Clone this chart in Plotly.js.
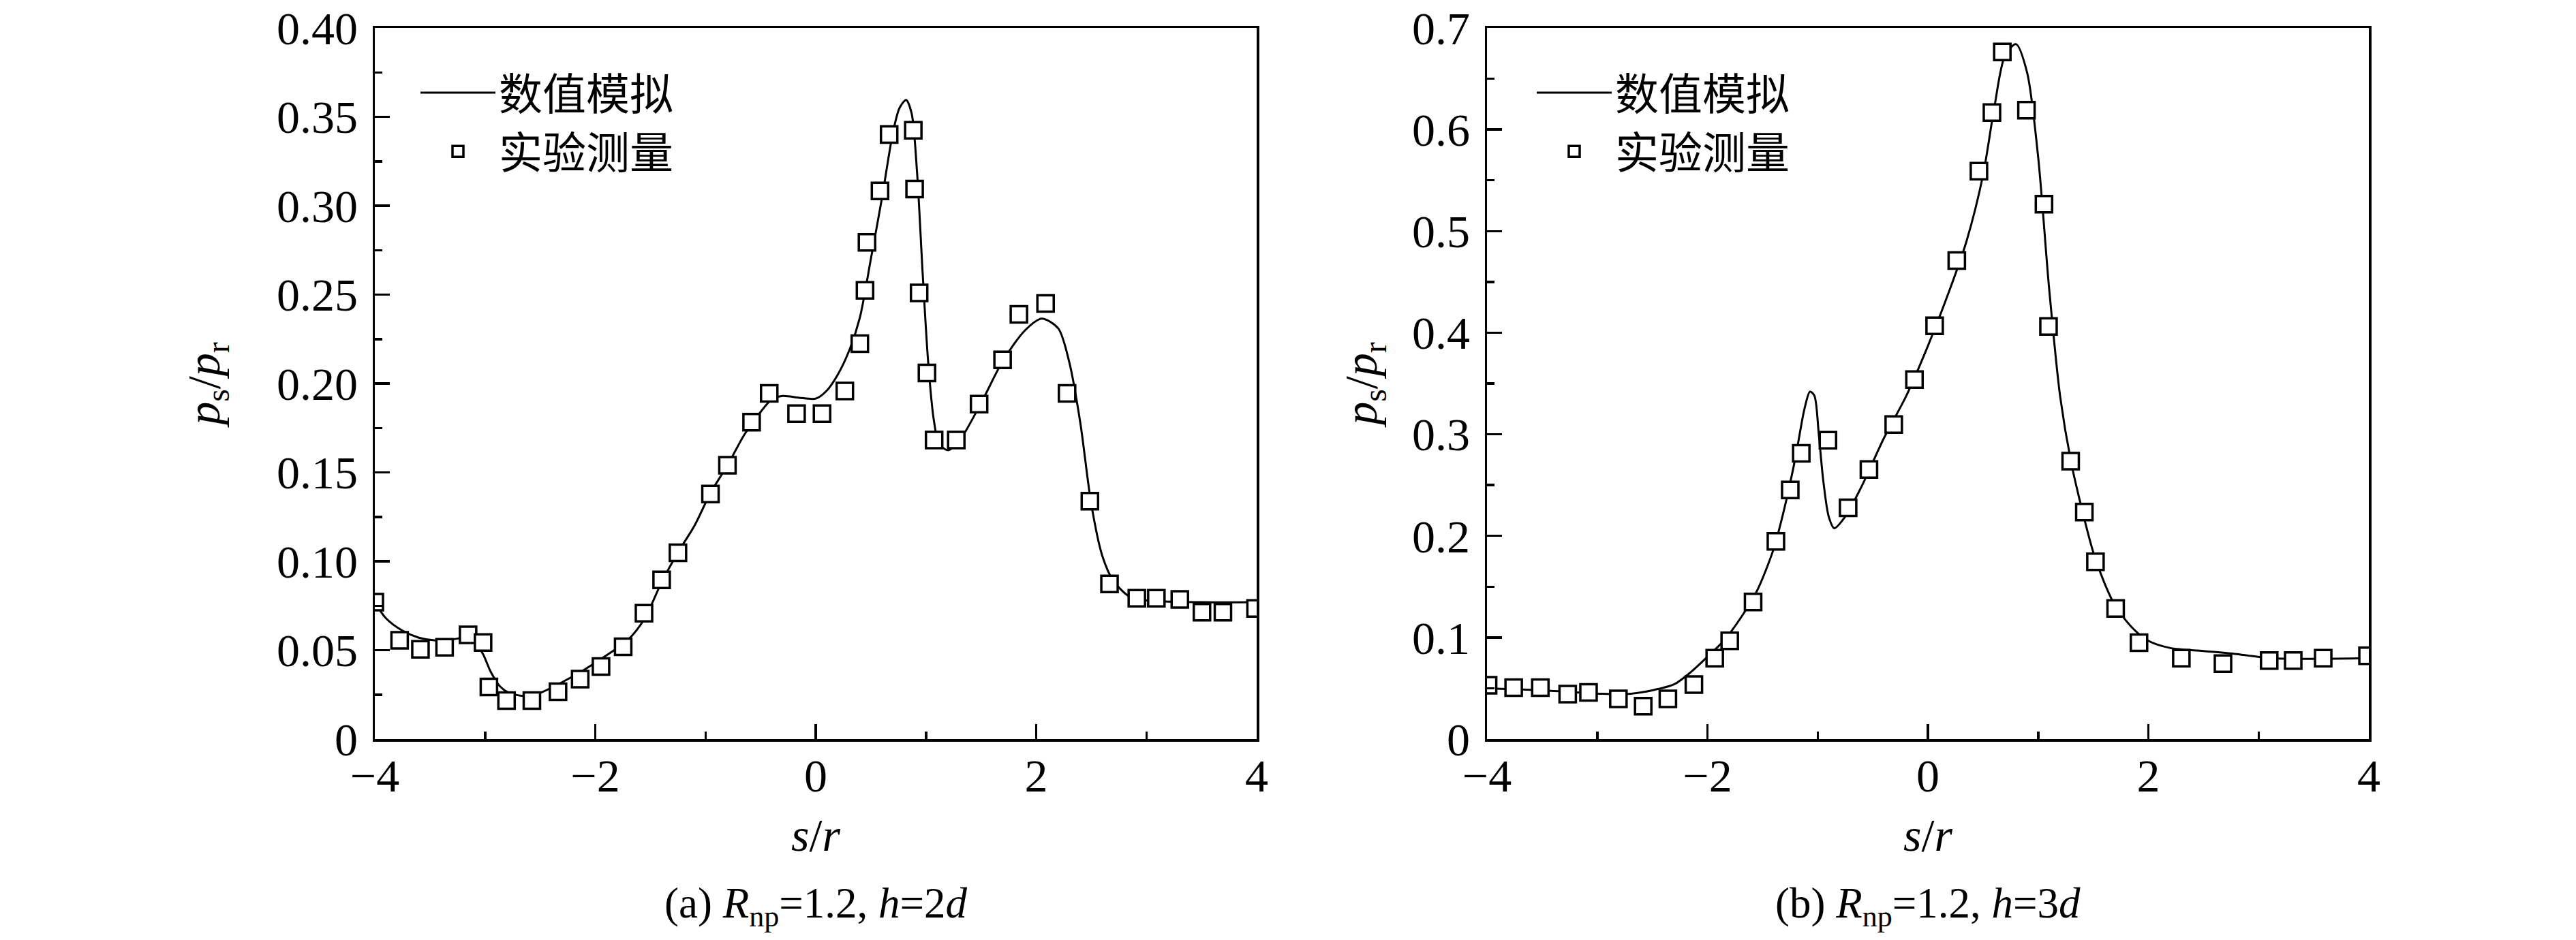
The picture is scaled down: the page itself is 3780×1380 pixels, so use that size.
<!DOCTYPE html>
<html>
<head>
<meta charset="utf-8">
<script src="https://cdn.plot.ly/plotly-3.0.1.min.js"></script>
<style>
  html, body { margin: 0; padding: 0; background: #fff; }
  #chart { width: 3780px; height: 1380px; }
</style>
</head>
<body>
<div id="chart"></div>
<script>
// (a) h = 2d : simulated curve
var simA_x = [-4, -3.9, -3.75, -3.6, -3.45, -3.3, -3.18, -3.1, -3.02, -2.95, -2.87, -2.78, -2.65, -2.5,
  -2.3, -2.1, -1.9, -1.7, -1.55, -1.4, -1.25, -1.1, -0.95, -0.8, -0.65, -0.5, -0.4, -0.3, -0.15, 0,
  0.1, 0.2, 0.3, 0.4, 0.5, 0.6, 0.7, 0.76, 0.82, 0.87, 0.92, 0.97, 1.02, 1.07, 1.12, 1.2, 1.3, 1.5,
  1.7, 1.9, 2.05, 2.2, 2.3, 2.4, 2.5, 2.6, 2.7, 2.85, 3.0, 3.5, 4.0];
var simA_y = [0.077, 0.068, 0.061, 0.057, 0.0555, 0.056, 0.057, 0.055, 0.048, 0.038, 0.030, 0.026, 0.0243, 0.026,
  0.032, 0.039, 0.047, 0.056, 0.068, 0.088, 0.105, 0.120, 0.139, 0.154, 0.171, 0.184, 0.191, 0.193, 0.192, 0.1915,
  0.196, 0.205, 0.218, 0.237, 0.27, 0.304, 0.341, 0.355, 0.3595, 0.352, 0.318, 0.262, 0.212, 0.18, 0.166, 0.1625, 0.1675, 0.189,
  0.213, 0.23, 0.2365, 0.231, 0.212, 0.178, 0.132, 0.103, 0.089, 0.080, 0.078, 0.077, 0.077];

// (a) h = 2d : measured points
var expA_x = [-4.0, -3.775, -3.586, -3.367, -3.154, -3.018, -2.965, -2.805, -2.575, -2.338, -2.137, -1.948,
  -1.747, -1.558, -1.398, -1.25, -0.955, -0.801, -0.582, -0.422, -0.174, 0.057, 0.264, 0.40, 0.447, 0.465,
  0.583, 0.666, 0.885, 0.897, 0.938, 1.009, 1.074, 1.275, 1.482, 1.695, 1.843, 2.085, 2.28, 2.487, 2.665,
  2.913, 3.09, 3.303, 3.504, 3.694, 3.99];
var expA_y = [0.077, 0.0556, 0.0505, 0.0516, 0.0586, 0.0543, 0.0293, 0.0216, 0.0216, 0.0266, 0.0337, 0.0408,
  0.0519, 0.0708, 0.0896, 0.1048, 0.1378, 0.154, 0.1783, 0.1944, 0.183, 0.183, 0.1958, 0.2224, 0.2524, 0.2794,
  0.3083, 0.340, 0.3424, 0.3094, 0.251, 0.2059, 0.1682, 0.1682, 0.1884, 0.2133, 0.2389, 0.245, 0.1944, 0.1338, 0.0873,
  0.0792, 0.0792, 0.0785, 0.0714, 0.0714, 0.0735];

// (b) h = 3d : simulated curve
var simB_x = [-4, -3.5, -3, -2.75, -2.5, -2.3, -2.15, -2.0, -1.85, -1.7, -1.55, -1.4, -1.3, -1.2, -1.12,
  -1.07, -1.03, -0.99, -0.95, -0.9, -0.85, -0.75, -0.6, -0.4, -0.2, 0, 0.2, 0.35, 0.5, 0.6, 0.7, 0.8,
  0.9, 1.0, 1.1, 1.2, 1.3, 1.4, 1.5, 1.6, 1.7, 1.85, 2.0, 2.2, 2.5, 2.8, 3.1, 3.5, 4.0];
var simB_y = [0.050, 0.048, 0.0448, 0.0442, 0.048, 0.054, 0.066, 0.081, 0.097, 0.119, 0.146, 0.187, 0.228, 0.278, 0.325,
  0.342, 0.338, 0.30, 0.255, 0.219, 0.2075, 0.219, 0.249, 0.296, 0.337, 0.387, 0.443, 0.49, 0.555, 0.62, 0.673, 0.684,
  0.656, 0.573, 0.443, 0.337, 0.272, 0.225, 0.184, 0.154, 0.131, 0.110, 0.0967, 0.0896, 0.0867, 0.0837, 0.0796, 0.079, 0.0796];

// (b) h = 3d : measured points
var expB_x = [-3.99, -3.758, -3.516, -3.268, -3.079, -2.808, -2.583, -2.359, -2.123, -1.934, -1.798, -1.586,
  -1.379, -1.249, -1.149, -0.907, -0.724, -0.535, -0.31, -0.122, 0.061, 0.262, 0.463, 0.581, 0.675, 0.894,
  1.053, 1.094, 1.295, 1.419, 1.52, 1.703, 1.915, 2.299, 2.677, 3.096, 3.314, 3.586, 3.988];
var expB_y = [0.053, 0.0507, 0.0507, 0.0442, 0.046, 0.0395, 0.0324, 0.0395, 0.0537, 0.0796, 0.0967, 0.135,
  0.1946, 0.2453, 0.2813, 0.2942, 0.2276, 0.2653, 0.3096, 0.3538, 0.4069, 0.4711, 0.559, 0.6167, 0.6763, 0.6191,
  0.5265, 0.4062, 0.2736, 0.2235, 0.1745, 0.1285, 0.0949, 0.0796, 0.0743, 0.0772, 0.0772, 0.0796, 0.082];

var xTicks = [-4, -2, 0, 2, 4];
var xTickText = ['\u22124', '\u22122', '0', '2', '4'];
var yTicksA = [0, 0.05, 0.10, 0.15, 0.20, 0.25, 0.30, 0.35, 0.40];
var yTickTextA = ['0', '0.05', '0.10', '0.15', '0.20', '0.25', '0.30', '0.35', '0.40'];
var yTicksB = [0, 0.1, 0.2, 0.3, 0.4, 0.5, 0.6, 0.7];
var yTickTextB = ['0', '0.1', '0.2', '0.3', '0.4', '0.5', '0.6', '0.7'];

var simName = '数值模拟';
var expName = '实验测量';
var subA = '(a) <i>R</i><sub>np</sub>=1.2, <i>h</i>=2<i>d</i>';
var subB = '(b) <i>R</i><sub>np</sub>=1.2, <i>h</i>=3<i>d</i>';

var SERIF = 'Liberation Serif, Times New Roman, serif';
var CJK = 'Noto Sans CJK SC, sans-serif';
var W = 3780, H = 1380;
var TICKFONT = {family: SERIF, size: 68, color: '#000'};

function lineTrace(x, y, xa, ya, leg) {
  return {
    x: x, y: y, xaxis: xa, yaxis: ya, legend: leg,
    name: simName, type: 'scatter', mode: 'lines',
    line: {color: '#000', width: 3, shape: 'spline', smoothing: 0.8},
    hoverinfo: 'skip'
  };
}
function pointTrace(x, y, xa, ya, leg) {
  return {
    x: x, y: y, xaxis: xa, yaxis: ya, legend: leg,
    name: expName, type: 'scatter', mode: 'markers',
    marker: {symbol: 'square', size: 24, color: '#fff', line: {color: '#000', width: 3.5}},
    hoverinfo: 'skip'
  };
}

function xAxis(domain, anchor) {
  return {
    domain: domain, anchor: anchor, range: [-4, 4],
    showline: true, linecolor: '#000', linewidth: 3.5, mirror: true,
    showgrid: false, zeroline: false,
    ticks: 'inside', ticklen: 22, tickwidth: 3.5, tickcolor: '#000',
    tickvals: xTicks, ticktext: xTickText, tickfont: TICKFONT, ticklabelstandoff: -8,
    minor: {ticks: 'inside', ticklen: 11, tickwidth: 3.5, tickcolor: '#000', dtick: 1, tick0: 0, showgrid: false},
    title: {text: '<i>s</i>/<i>r</i>', font: {family: SERIF, size: 68, color: '#000'}, standoff: 26}
  };
}
function yAxis(domain, anchor, range, vals, text, minorStep, standoff) {
  return {
    domain: domain, anchor: anchor, range: range,
    showline: true, linecolor: '#000', linewidth: 3.5, mirror: true,
    showgrid: false, zeroline: false,
    ticks: 'inside', ticklen: 22, tickwidth: 3.5, tickcolor: '#000',
    tickvals: vals, ticktext: text, tickfont: TICKFONT, ticklabelstandoff: 8,
    minor: {ticks: 'inside', ticklen: 11, tickwidth: 3.5, tickcolor: '#000', dtick: minorStep, tick0: 0, showgrid: false},
    title: {text: '<i>p</i><sub>s</sub>/<i>p</i><sub>r</sub>', font: {family: SERIF, size: 68, color: '#000'}, standoff: standoff}
  };
}

var domA = [550 / W, 1844 / W];
var domB = [2182 / W, 3476 / W];
var domY = [1 - 1085 / H, 1 - 41 / H];

var data = [
  lineTrace(simA_x, simA_y, 'x', 'y', 'legend'),
  pointTrace(expA_x, expA_y, 'x', 'y', 'legend'),
  lineTrace(simB_x, simB_y, 'x2', 'y2', 'legend2'),
  pointTrace(expB_x, expB_y, 'x2', 'y2', 'legend2')
];

function legendBox(xpx) {
  return {
    x: xpx / W, y: 1 - 88 / H, xanchor: 'left', yanchor: 'top',
    bgcolor: 'rgba(0,0,0,0)', borderwidth: 0,
    font: {family: CJK, size: 64, color: '#000'},
    itemwidth: 110, tracegroupgap: 0
  };
}

var layout = {
  width: W, height: H,
  margin: {l: 0, r: 0, t: 0, b: 0},
  paper_bgcolor: '#fff', plot_bgcolor: '#fff',
  showlegend: true,
  xaxis: xAxis(domA, 'y'),
  yaxis: yAxis(domY, 'x', [0, 0.4], yTicksA, yTickTextA, 0.025, 62),
  xaxis2: xAxis(domB, 'y2'),
  yaxis2: yAxis(domY, 'x2', [0, 0.7], yTicksB, yTickTextB, 0.05, 30),
  legend: legendBox(612),
  legend2: legendBox(2250),
  annotations: [
    {text: subA, xref: 'paper', yref: 'paper', x: 1197 / W, y: 1 - 1330 / H,
     xanchor: 'center', yanchor: 'middle',
     showarrow: false, font: {family: SERIF, size: 63, color: '#000'}},
    {text: subB, xref: 'paper', yref: 'paper', x: 2829 / W, y: 1 - 1330 / H,
     xanchor: 'center', yanchor: 'middle',
     showarrow: false, font: {family: SERIF, size: 63, color: '#000'}}
  ]
};

Plotly.newPlot('chart', data, layout, {displayModeBar: false, staticPlot: true});
</script>
</body>
</html>
